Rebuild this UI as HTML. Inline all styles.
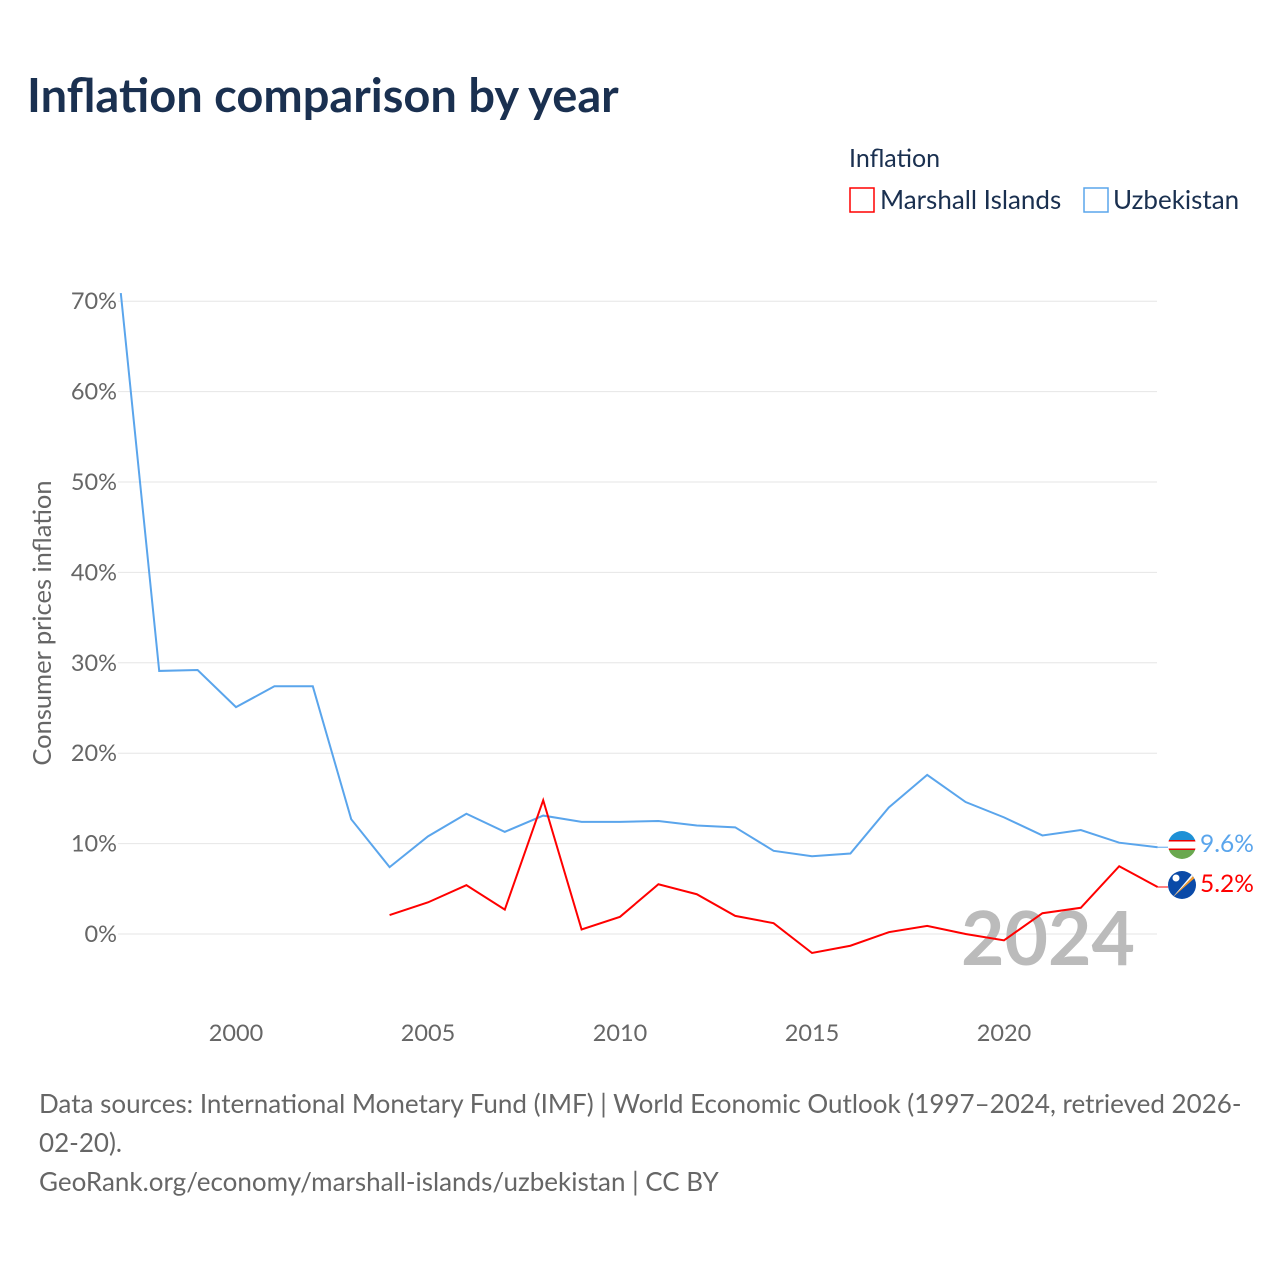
<!DOCTYPE html>
<html><head><meta charset="utf-8"><style>
body{margin:0;background:#fff;font-family:"Liberation Sans",sans-serif}
svg text{font-family:"Lato","Liberation Sans",sans-serif}
</style></head><body>
<svg width="1280" height="1280" xmlns="http://www.w3.org/2000/svg">
<defs>
<clipPath id="c1"><circle cx="1182" cy="845" r="14"/></clipPath>
<clipPath id="c2"><circle cx="1182" cy="885" r="14"/></clipPath>
</defs>
<text x="27" y="112" font-size="47" font-weight="bold" fill="#1a3050">Inflation comparison by year</text>
<text x="849" y="167" font-size="25" fill="#1a3050">Inflation</text>
<g><rect x="850" y="188" width="24" height="24" fill="none" stroke="#ff0000" stroke-width="1.5"/><text x="880" y="209" font-size="26" fill="#1a3050">Marshall Islands</text></g>
<g><rect x="1084" y="188" width="24" height="24" fill="none" stroke="#5aa5ec" stroke-width="1.5"/><text x="1113" y="209" font-size="26" fill="#1a3050">Uzbekistan</text></g>
<g id="grid"></g>
<g id="xt"></g>
<text transform="translate(51,623) rotate(-90)" text-anchor="middle" font-size="25.5" fill="#666">Consumer prices inflation</text>
<text x="1135" y="965" text-anchor="end" font-size="75" font-weight="bold" fill="#bbb">2024</text>
<g id="series"></g>
<g clip-path="url(#c1)">
<rect x="1168" y="831" width="28" height="9" fill="#1e90d6"/><rect x="1168" y="840" width="28" height="10" fill="#fff"/><rect x="1168" y="840" width="28" height="1.5" fill="#e00"/><rect x="1168" y="848.5" width="28" height="1.5" fill="#e00"/><rect x="1168" y="850" width="28" height="10" fill="#6aa84f"/></g>
<g clip-path="url(#c2)">
<rect x="1168" y="871" width="28" height="28" fill="#0a4aa8"/><polygon points="1172,898 1197,872 1197,876" fill="#f39a2b"/><polygon points="1172,898 1197,872 1194,872" fill="#fff"/><circle cx="1176" cy="878" r="3.5" fill="#fff"/></g>
<text x="1200" y="852" font-size="24.5" fill="#5aa5ec">9.6%</text>
<text x="1200" y="892" font-size="24.5" fill="#ff0000">5.2%</text>
<text x="39" y="1113" font-size="26" fill="#666">Data sources: International Monetary Fund (IMF) | World Economic Outlook (1997–2024, retrieved 2026-</text>
<text x="39" y="1152" font-size="26" fill="#666">02-20).</text>
<text x="39" y="1191" font-size="26" fill="#666">GeoRank.org/economy/marshall-islands/uzbekistan | CC BY</text>
</svg>
<script>
const years=[1997,1998,1999,2000,2001,2002,2003,2004,2005,2006,2007,2008,2009,2010,2011,2012,2013,2014,2015,2016,2017,2018,2019,2020,2021,2022,2023,2024];
const uzbekistan=[70.9,29.1,29.2,25.1,27.4,27.4,12.7,7.4,10.8,13.3,11.3,13.1,12.4,12.4,12.5,12.0,11.8,9.2,8.6,8.9,14.0,17.6,14.6,12.9,10.9,11.5,10.1,9.6];
const marshallYears=[2004,2005,2006,2007,2008,2009,2010,2011,2012,2013,2014,2015,2016,2017,2018,2019,2020,2021,2022,2023,2024];
const marshall=[2.1,3.5,5.4,2.7,14.8,0.5,1.9,5.5,4.4,2.0,1.2,-2.1,-1.3,0.2,0.9,0.0,-0.7,2.3,2.9,7.5,5.2];
const yTicks=[0,10,20,30,40,50,60,70];
const xTicks=[2000,2005,2010,2015,2020];
const NS="http://www.w3.org/2000/svg";
const x=v=>236+(v-2000)*38.4;
const y=v=>934-v*9.04;
const grid=document.getElementById('grid');
yTicks.forEach(t=>{
 const l=document.createElementNS(NS,'line');
 l.setAttribute('x1',118);l.setAttribute('x2',1157);l.setAttribute('y1',y(t));l.setAttribute('y2',y(t));
 l.setAttribute('stroke','#e6e6e6');
 
 
 grid.appendChild(l);
 const tx=document.createElementNS(NS,'text');
 tx.setAttribute('x',117);tx.setAttribute('y',y(t)+8);tx.setAttribute('text-anchor','end');
 tx.setAttribute('font-size','23.5');tx.setAttribute('fill','#666');tx.textContent=t+'%';
 
 
 grid.appendChild(tx);
});
const xt=document.getElementById('xt');
xTicks.forEach(t=>{
 const tx=document.createElementNS(NS,'text');
 tx.setAttribute('x',x(t));tx.setAttribute('y',1041);tx.setAttribute('text-anchor','middle');
 tx.setAttribute('font-size','23.5');tx.setAttribute('fill','#666');tx.textContent=t;
 
 
 xt.appendChild(tx);
});
const s=document.getElementById('series');
function line(xs,vs,color,name){
 const p=document.createElementNS(NS,'polyline');
 p.setAttribute('points',xs.map((yr,i)=>x(yr)+','+y(vs[i])).join(' '));
 p.setAttribute('fill','none');p.setAttribute('stroke',color);p.setAttribute('stroke-width','2');
 
 
 s.appendChild(p);
 const last=vs[vs.length-1];
 const c=document.createElementNS(NS,'line');
 c.setAttribute('x1',x(xs[xs.length-1]));c.setAttribute('y1',y(last));
 c.setAttribute('x2',1168);c.setAttribute('y2',y(last));
 c.setAttribute('stroke',color);c.setAttribute('stroke-width','1');
 
 
 s.appendChild(c);
}
line(years,uzbekistan,'#5aa5ec','uzbekistan-line');
line(marshallYears,marshall,'#ff0000','marshall-islands-line');
</script>
</body></html>
